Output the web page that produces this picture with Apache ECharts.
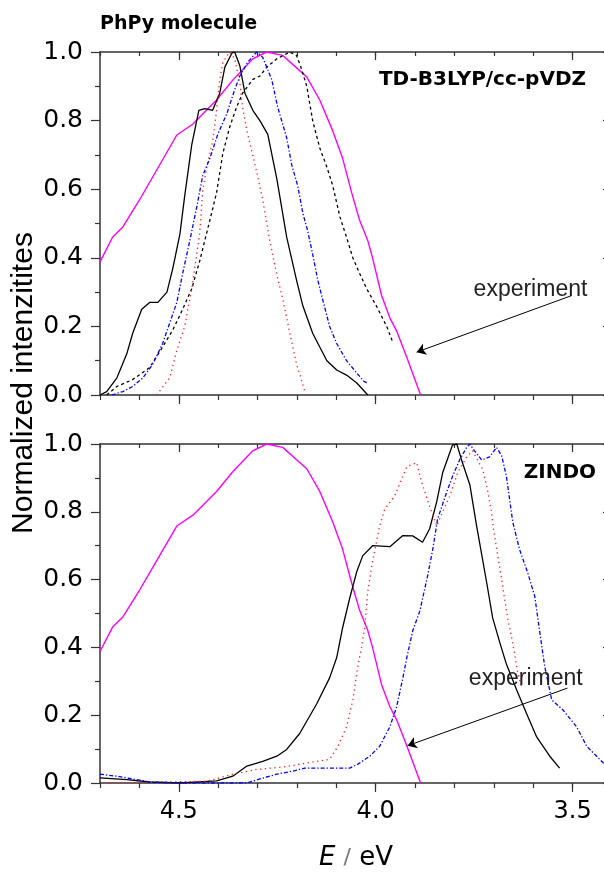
<!DOCTYPE html>
<html>
<head>
<meta charset="utf-8">
<script src="https://cdn.jsdelivr.net/npm/echarts@6/dist/echarts.min.js"></script>
<style>
html, body { margin: 0; padding: 0; overflow: hidden; background: #fff; }
#main { width: 612px; height: 872px; }
</style>
</head>
<body>
<div id="main"></div>
<script>
// energies in eV, intensities normalized
var energyTicks = [3.5, 4.0, 4.5];

var experiment = [[4.700,0.388],[4.668,0.46],[4.642,0.49],[4.599,0.57],[4.556,0.656],[4.505,0.758],
  [4.464,0.79],[4.404,0.86],[4.363,0.918],[4.312,0.98],[4.277,1.0],[4.236,0.99],[4.200,0.953],
  [4.175,0.927],[4.142,0.86],[4.109,0.77],[4.084,0.69],[4.061,0.59],[4.041,0.51],[4.020,0.45],
  [4.008,0.40],[3.985,0.29],[3.964,0.225],[3.947,0.187],[3.921,0.11],[3.886,0]];

// TD-B3LYP/cc-pVDZ panel
var tdSolid = [[4.700,0],[4.683,0.01],[4.657,0.05],[4.632,0.12],[4.617,0.18],[4.594,0.25],[4.574,0.27],
  [4.553,0.27],[4.530,0.30],[4.515,0.37],[4.497,0.47],[4.485,0.58],[4.467,0.73],[4.449,0.83],[4.434,0.835],
  [4.414,0.83],[4.396,0.88],[4.383,0.956],[4.365,0.997],[4.358,1.0],[4.345,0.96],[4.332,0.88],[4.312,0.83],
  [4.294,0.80],[4.274,0.76],[4.251,0.63],[4.226,0.46],[4.201,0.335],[4.185,0.26],[4.160,0.18],[4.124,0.10],
  [4.099,0.073],[4.074,0.058],[4.048,0.035],[4.020,0]];
var tdDot = [[4.556,0],[4.543,0.02],[4.523,0.05],[4.505,0.13],[4.485,0.2],[4.467,0.31],[4.447,0.47],
  [4.439,0.6],[4.426,0.68],[4.414,0.74],[4.404,0.83],[4.396,0.92],[4.388,0.97],[4.371,1.0],[4.358,0.98],
  [4.345,0.91],[4.338,0.84],[4.327,0.77],[4.302,0.65],[4.287,0.57],[4.269,0.45],[4.251,0.35],[4.236,0.28],
  [4.218,0.18],[4.201,0.09],[4.190,0.05],[4.180,0.01]];
var tdDashDot = [[4.670,0],[4.642,0.01],[4.617,0.025],[4.591,0.05],[4.566,0.09],[4.541,0.15],[4.523,0.21],
  [4.505,0.27],[4.490,0.355],[4.472,0.45],[4.454,0.55],[4.439,0.64],[4.421,0.69],[4.401,0.76],[4.378,0.82],
  [4.358,0.89],[4.345,0.93],[4.325,0.97],[4.302,1.0],[4.287,0.985],[4.264,0.92],[4.249,0.84],[4.226,0.75],
  [4.213,0.67],[4.198,0.61],[4.185,0.53],[4.173,0.48],[4.160,0.41],[4.147,0.335],[4.135,0.28],[4.117,0.2],
  [4.099,0.15],[4.074,0.10],[4.048,0.064],[4.030,0.04],[4.020,0.035]];
var tdDash = [[4.683,0],[4.657,0.025],[4.617,0.045],[4.574,0.08],[4.541,0.14],[4.515,0.19],[4.490,0.25],
  [4.467,0.31],[4.447,0.39],[4.421,0.51],[4.404,0.59],[4.388,0.705],[4.371,0.78],[4.353,0.84],[4.338,0.88],
  [4.312,0.92],[4.294,0.93],[4.277,0.955],[4.251,0.98],[4.218,1.0],[4.201,0.99],[4.188,0.95],[4.175,0.90],
  [4.160,0.80],[4.142,0.72],[4.124,0.665],[4.109,0.61],[4.091,0.52],[4.074,0.46],[4.058,0.40],[4.041,0.355],
  [4.023,0.31],[3.997,0.257],[3.972,0.2],[3.957,0.155]];

// ZINDO panel
var zSolid = [[4.700,0.015],[4.632,0.01],[4.574,0.003],[4.50,0],[4.404,0.006],[4.363,0.02],[4.327,0.05],
  [4.287,0.064],[4.251,0.079],[4.226,0.099],[4.193,0.146],[4.150,0.233],[4.117,0.31],[4.099,0.37],
  [4.084,0.458],[4.066,0.545],[4.048,0.624],[4.033,0.67],[4.008,0.70],[3.964,0.697],[3.931,0.73],
  [3.906,0.729],[3.881,0.71],[3.863,0.75],[3.845,0.83],[3.830,0.915],[3.805,0.997],[3.794,1.0],
  [3.782,0.953],[3.761,0.88],[3.744,0.76],[3.718,0.59],[3.703,0.487],[3.685,0.415],[3.668,0.35],
  [3.642,0.274],[3.617,0.205],[3.591,0.135],[3.558,0.079],[3.533,0.044]];
var zDot = [[4.680,0],[4.429,0.005],[4.363,0.026],[4.302,0.04],[4.236,0.047],[4.117,0.07],[4.096,0.108],
  [4.074,0.166],[4.058,0.245],[4.046,0.34],[4.036,0.40],[4.028,0.458],[4.020,0.566],[4.008,0.653],
  [3.990,0.758],[3.977,0.808],[3.952,0.846],[3.921,0.933],[3.896,0.945],[3.883,0.886],[3.863,0.816],
  [3.845,0.758],[3.830,0.80],[3.812,0.846],[3.792,0.915],[3.769,0.962],[3.754,0.98],[3.728,0.924],
  [3.718,0.875],[3.706,0.80],[3.701,0.75],[3.690,0.67],[3.680,0.60],[3.673,0.545],[3.665,0.487],
  [3.655,0.43],[3.647,0.38],[3.640,0.33],[3.629,0.28]];
var zDashDot = [[4.700,0.026],[4.657,0.02],[4.617,0.012],[4.574,0.003],[4.50,0],[4.327,0],[4.294,0.012],
  [4.251,0.026],[4.211,0.035],[4.180,0.044],[4.142,0.044],[4.066,0.044],[4.046,0.055],[4.015,0.079],
  [3.990,0.108],[3.964,0.166],[3.947,0.224],[3.931,0.31],[3.921,0.37],[3.906,0.449],[3.888,0.507],
  [3.868,0.612],[3.855,0.69],[3.843,0.778],[3.820,0.857],[3.805,0.904],[3.787,0.953],[3.769,0.99],
  [3.761,1.0],[3.749,0.98],[3.731,0.953],[3.711,0.962],[3.693,0.99],[3.680,0.965],[3.668,0.904],
  [3.652,0.77],[3.635,0.69],[3.614,0.62],[3.596,0.55],[3.584,0.45],[3.571,0.345],[3.553,0.245],
  [3.525,0.216],[3.490,0.166],[3.464,0.108],[3.439,0.079],[3.421,0.058],[3.40,0.045]];

// arrow start / end and label spot for "experiment"
var arrowTop = [[3.502, 0.29], [3.896, 0.125]];
var labelTop = [3.607, 0.306];
var arrowBottom = [[3.513, 0.28], [3.919, 0.11]];
var labelBottom = [3.619, 0.309];

var axisColor = '#333';
var myChart = echarts.init(document.getElementById('main'));

function xAxes(grid, labels) {
  var base = {
    gridIndex: grid, type: 'value', min: 3.4, max: 4.7, inverse: true,
    splitLine: { show: false }, axisLabel: { show: false }
  };
  var line = { show: true, onZero: false, lineStyle: { color: axisColor, width: 1.5 } };
  var noLine = { show: false, onZero: false };
  var tick = function (len, inside, custom) {
    var t = { length: len, inside: inside, lineStyle: { color: axisColor, width: 1.2 } };
    if (custom) t.customValues = energyTicks;
    return t;
  };
  var bottomMinor = Object.assign({}, base, {
    position: 'bottom', interval: 0.1, axisLine: line, axisTick: tick(5, false)
  });
  if (labels) {
    bottomMinor.axisLabel = {
      show: true, customValues: energyTicks, margin: 17, color: '#000',
      fontSize: 24, fontFamily: 'DejaVu Sans',
      formatter: function (v) { return v.toFixed(1); }
    };
    bottomMinor.name = '{i|E} {s|/} eV';
    bottomMinor.nameLocation = 'middle';
    bottomMinor.nameGap = 62;
    bottomMinor.nameTextStyle = {
      fontSize: 26, fontFamily: 'DejaVu Sans', color: '#000',
      rich: {
        i: { fontSize: 26, fontFamily: 'DejaVu Sans', fontStyle: 'italic', color: '#000' },
        s: { fontSize: 22, fontFamily: 'DejaVu Sans', color: '#777' }
      }
    };
  }
  return [
    bottomMinor,
    Object.assign({}, base, { position: 'bottom', axisLine: noLine, axisTick: tick(9, false, true) }),
    Object.assign({}, base, { position: 'top', interval: 0.1, axisLine: line, axisTick: tick(4, true) }),
    Object.assign({}, base, { position: 'top', axisLine: noLine, axisTick: tick(8, true, true) })
  ];
}

function yAxes(grid) {
  var base = {
    gridIndex: grid, type: 'value', min: 0, max: 1, interval: 0.2,
    splitLine: { show: false },
    axisLine: { show: true, onZero: false, lineStyle: { color: axisColor, width: 1.5 } }
  };
  return [
    Object.assign({}, base, {
      position: 'left',
      axisTick: { length: 9, lineStyle: { color: axisColor, width: 1.2 } },
      minorTick: { show: true, splitNumber: 2, length: 5, lineStyle: { color: axisColor, width: 1.2 } },
      axisLabel: {
        margin: 17, color: '#000', fontSize: 25, fontFamily: 'DejaVu Sans',
        formatter: function (v) { return v.toFixed(1); }
      }
    }),
    Object.assign({}, base, {
      position: 'right',
      axisTick: { length: 9, inside: true, lineStyle: { color: axisColor, width: 1.2 } },
      minorTick: { show: true, splitNumber: 2, length: 5, lineStyle: { color: axisColor, width: 1.2 } },
      axisLabel: { show: false }
    })
  ];
}

function curve(name, data, xi, yi, color, dash, width) {
  return {
    name: name, type: 'line', data: data, xAxisIndex: xi, yAxisIndex: yi,
    showSymbol: false, symbol: 'none', silent: true,
    lineStyle: { color: color, width: width || 1.3, type: dash || 'solid' }
  };
}

function expCurve(xi, yi, arrow, label) {
  var s = curve('experiment', experiment, xi, yi, '#ff00ff', 'solid', 1.4);
  s.markLine = {
    silent: true, symbol: ['none', 'arrow'], symbolSize: 9, label: { show: false },
    lineStyle: { color: '#000', width: 1, type: 'solid' },
    data: [[{ coord: arrow[0] }, { coord: arrow[1] }]]
  };
  s.markPoint = {
    silent: true, symbol: 'circle', symbolSize: 0,
    label: { show: true, position: 'inside', formatter: 'experiment', color: '#222',
      fontSize: 23, fontFamily: 'Liberation Sans' },
    data: [{ coord: label }]
  };
  return s;
}

var titleFont = { fontFamily: 'DejaVu Sans', fontWeight: 'bold', color: '#000' };

var option = {
  animation: false,
  backgroundColor: '#fff',
  title: [
    { text: 'PhPy molecule', left: 100, top: 15, padding: 0,
      textStyle: Object.assign({ fontSize: 19 }, titleFont) },
    { text: 'TD-B3LYP/cc-pVDZ', right: 26, top: 70, padding: 0,
      textStyle: Object.assign({ fontSize: 20 }, titleFont) },
    { text: 'ZINDO', right: 16, top: 463, padding: 0,
      textStyle: Object.assign({ fontSize: 20 }, titleFont) }
  ],
  grid: [
    { left: 100, right: 0, top: 52, height: 343 },
    { left: 100, right: 0, top: 444, height: 343 }
  ],
  xAxis: xAxes(0, false).concat(xAxes(1, true)),
  yAxis: yAxes(0).concat(yAxes(1)),
  graphic: [{
    type: 'text', x: 24, y: 383, rotation: Math.PI / 2,
    style: { text: 'Normalized intenzitites', fontSize: 30, fontFamily: 'Liberation Sans',
      fill: '#000', align: 'center', verticalAlign: 'middle' }
  }],
  series: [
    expCurve(0, 0, arrowTop, labelTop),
    curve('TD solid', tdSolid, 0, 0, '#000'),
    curve('TD dashed', tdDash, 0, 0, '#000', [3, 3]),
    curve('TD dotted', tdDot, 0, 0, '#ff2020', [1.3, 3.5]),
    curve('TD dash-dot', tdDashDot, 0, 0, '#0000ff', [4, 2, 1.3, 2]),
    expCurve(4, 2, arrowBottom, labelBottom),
    curve('ZINDO solid', zSolid, 4, 2, '#000'),
    curve('ZINDO dotted', zDot, 4, 2, '#ff2020', [1.3, 3.5]),
    curve('ZINDO dash-dot', zDashDot, 4, 2, '#0000ff', [4, 2, 1.3, 2])
  ]
};

myChart.setOption(option);
</script>
</body>
</html>
